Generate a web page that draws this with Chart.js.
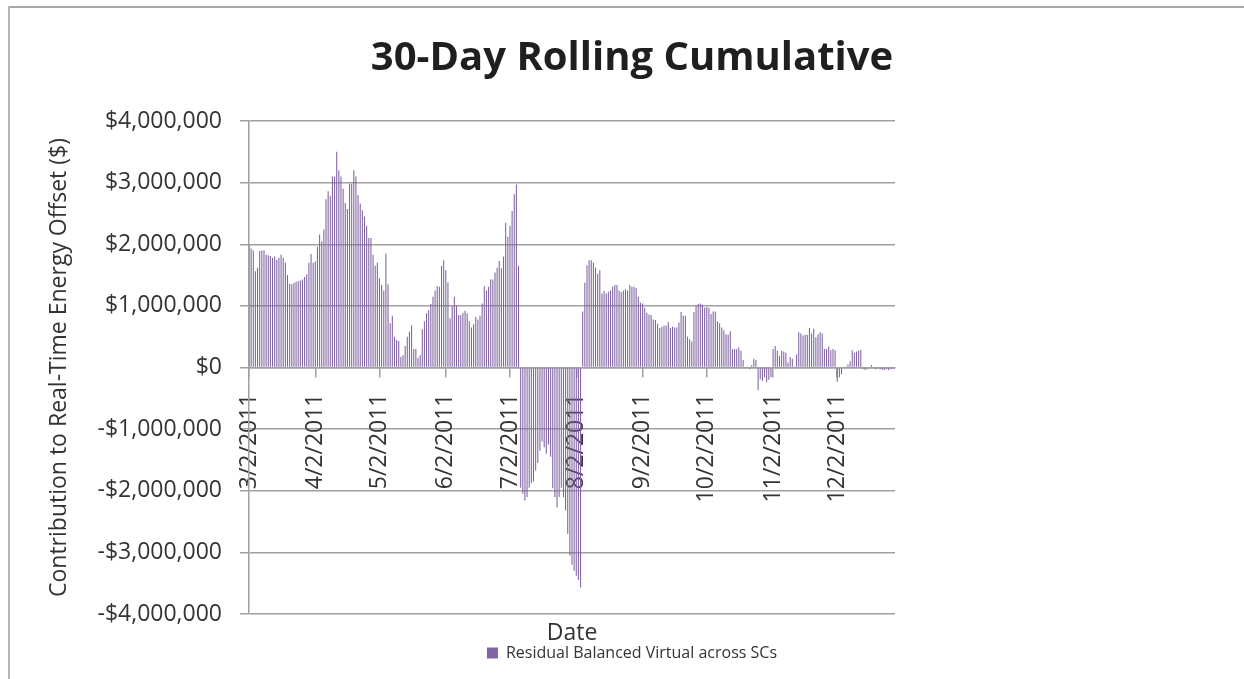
<!DOCTYPE html>
<html>
<head>
<meta charset="utf-8">
<script src="https://cdn.jsdelivr.net/npm/chart.js@4.4.0/dist/chart.umd.min.js"></script>
<style>
  html, body { margin: 0; padding: 0; background: #fff; overflow: hidden; }
  #wrap { position: absolute; left: 0; top: 0; width: 1256px; height: 679px; }
  .frame-top { position: absolute; left: 8px; top: 6px; width: 1248px; height: 2px; background: #a8a8a8; }
  .frame-left { position: absolute; left: 8px; top: 6px; width: 2px; height: 673px; background: #b4b4b4; }
</style>
</head>
<body>
<div class="frame-top"></div>
<div class="frame-left"></div>
<div id="wrap"><canvas id="chart"></canvas></div>
<script>
// daily values, one array per month (March starts on the 2nd, December ends on the 29th)
const mar = [2000000,1930000,1900000,1560000,1620000,1890000,1900000,1900000,1830000,1820000,
  1810000,1780000,1800000,1750000,1780000,1830000,1780000,1700000,1500000,1360000,
  1350000,1370000,1390000,1400000,1410000,1430000,1470000,1510000,1700000,1840000];
const apr = [1700000,1720000,1960000,2160000,2050000,2240000,2730000,2860000,2780000,3100000,
  3100000,3500000,3200000,3100000,2900000,2670000,2570000,2980000,2980000,3200000,
  3100000,2800000,2660000,2550000,2450000,2300000,2100000,2100000,1830000,1650000];
const may = [1700000,1450000,1340000,1250000,1850000,1350000,720000,840000,500000,450000,
  430000,170000,200000,350000,500000,580000,680000,300000,300000,160000,
  200000,620000,750000,880000,930000,1030000,1150000,1250000,1320000,1310000,1650000];
const jun = [1740000,1580000,1380000,800000,1000000,1150000,1000000,850000,850000,890000,
  920000,880000,750000,650000,700000,820000,780000,840000,1040000,1320000,
  1250000,1310000,1430000,1430000,1540000,1620000,1730000,1610000,1800000,2350000];
const jul = [2120000,2300000,2540000,2810000,2970000,1650000,-1950000,-2050000,-2160000,-2100000,
  -1950000,-1880000,-1850000,-1670000,-1550000,-1350000,-1200000,-1300000,-1400000,-1250000,
  -1450000,-1960000,-2100000,-2270000,-2100000,-1950000,-2100000,-2320000,-2700000,-3050000,-3200000];
const aug = [-3300000,-3380000,-3450000,-3570000,910000,1380000,1660000,1740000,1740000,1700000,
  1620000,1520000,1580000,1200000,1240000,1200000,1230000,1250000,1310000,1340000,
  1340000,1250000,1220000,1250000,1270000,1250000,1340000,1310000,1310000,1290000,1150000];
const sep = [1050000,1040000,970000,890000,860000,850000,780000,770000,710000,640000,
  660000,680000,680000,740000,640000,660000,650000,650000,730000,900000,
  840000,840000,500000,460000,420000,900000,1000000,1030000,1040000,1020000];
const oct = [970000,980000,970000,870000,910000,910000,750000,720000,650000,600000,
  540000,530000,590000,300000,300000,300000,330000,270000,120000,-10000,
  10000,-30000,40000,140000,120000,-370000,-190000,-220000,-160000,-240000,-200000];
const nov = [-160000,300000,350000,270000,190000,270000,260000,240000,80000,170000,
  140000,10000,210000,570000,550000,520000,530000,530000,640000,550000,
  630000,490000,540000,570000,550000,300000,300000,340000,280000,300000];
const dec = [280000,-230000,-160000,-110000,0,10000,50000,100000,280000,240000,
  260000,270000,290000,-30000,-40000,-30000,-10000,40000,-10000,-30000,
  -10000,-30000,-40000,-40000,-30000,-40000,-30000,-20000,-20000];

const months = [mar, apr, may, jun, jul, aug, sep, oct, nov, dec];
const tickLabels = ['3/2/2011','4/2/2011','5/2/2011','6/2/2011','7/2/2011',
  '8/2/2011','9/2/2011','10/2/2011','11/2/2011','12/2/2011'];

const dates = [];
const values = [];
months.forEach((arr, k) => {
  const firstDay = k === 0 ? 2 : 1;
  arr.forEach((v, j) => {
    dates.push(`${k + 3}/${firstDay + j}/2011`);
    values.push(v);
  });
});

const font = 'Open Sans';
const gridGray = '#a0a0a0';
const textGray = '#333333';

function money(v) {
  const s = '$' + Math.abs(v).toLocaleString('en-US');
  return v < 0 ? '-' + s : s;
}

new Chart(document.getElementById('chart'), {
  type: 'bar',
  data: {
    labels: dates,
    datasets: [{
      label: 'Residual Balanced Virtual across SCs',
      data: values,
      backgroundColor: '#8064A2',
      barPercentage: 0.5,
      categoryPercentage: 1
    }]
  },
  options: {
    responsive: true,
    maintainAspectRatio: false,
    animation: false,
    layout: { padding: { left: 8, top: 0, right: 0, bottom: 8 } },
    plugins: {
      title: {
        display: true,
        text: '30-Day Rolling Cumulative',
        color: '#1f1f1f',
        font: { family: font, size: 40, weight: 'bold', lineHeight: 1.2 },
        padding: { top: 35, bottom: 38 }
      },
      legend: {
        position: 'bottom',
        labels: {
          boxWidth: 11,
          boxHeight: 11,
          padding: 0,
          color: textGray,
          font: { family: font, size: 16 }
        }
      },
      tooltip: { enabled: false }
    },
    scales: {
      x: {
        position: { y: 0 },
        offset: false,
        z: 1,
        grid: { offset: false, drawOnChartArea: false, color: gridGray, lineWidth: 1.5, tickLength: 9 },
        border: { display: true, color: gridGray, width: 1.5 },
        ticks: {
          autoSkip: false,
          minRotation: 90,
          maxRotation: 90,
          padding: 17,
          color: textGray,
          font: { family: font, size: 23 }
        },
        afterBuildTicks: (scale) => {
          scale.ticks = scale.ticks.filter(t => tickLabels.includes(dates[t.value]));
        }
      },
      x2: {
        type: 'linear',
        axis: 'x',
        position: 'bottom',
        min: 0,
        max: 1,
        grid: { display: false },
        border: { display: false },
        ticks: { display: false },
        title: {
          display: true,
          text: 'Date',
          color: textGray,
          font: { family: font, size: 23, lineHeight: 1 },
          padding: 0
        },
        afterFit: (scale) => { scale.height = 31; }
      },
      y: {
        min: -4000000,
        max: 4000000,
        grid: { color: gridGray, lineWidth: 1.5, tickLength: 9 },
        border: { display: true, color: gridGray, width: 1.5 },
        ticks: {
          stepSize: 1000000,
          padding: 18,
          color: textGray,
          font: { family: font, size: 23 },
          callback: (v) => money(v)
        },
        title: {
          display: true,
          text: 'Contribution to Real-Time Energy Offset ($)',
          color: textGray,
          font: { family: font, size: 23, lineHeight: 1.2 },
          padding: { top: 38, bottom: 0 }
        },
        afterFit: (scale) => { scale.width = 241; }
      },
      yr: {
        type: 'linear',
        axis: 'y',
        position: 'right',
        grid: { display: false },
        border: { display: false },
        ticks: { display: false },
        afterFit: (scale) => { scale.width = 361; }
      }
    }
  }
});
</script>
</body>
</html>
